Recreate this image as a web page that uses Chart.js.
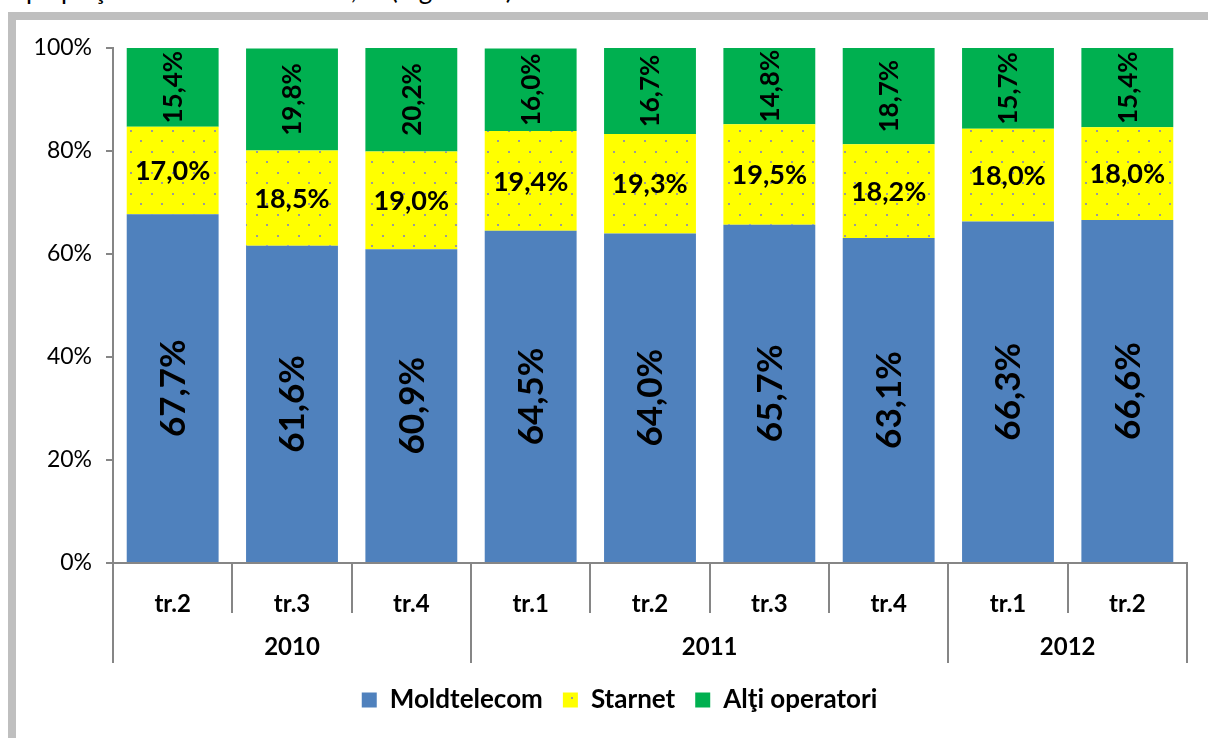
<!DOCTYPE html>
<html>
<head>
<meta charset="utf-8">
<script src="https://cdn.jsdelivr.net/npm/chart.js@4/dist/chart.umd.min.js"></script>
<style>
  body { margin: 0; background: #fff; width: 1208px; height: 738px; overflow: hidden; position: relative; font-family: Lato, sans-serif; }
  #caption { position: absolute; left: 26px; top: -27px; font-size: 26px; color: #000; white-space: nowrap; }
  #frame { position: absolute; left: 8px; top: 12px; width: 1300px; height: 800px; border-left: 8px solid #bfbfbf; border-top: 8px solid #bfbfbf; background: #fff; }
  #chart { position: absolute; left: 0; top: 0; }
</style>
</head>
<body>
<div id="caption">pe piaţa accesului la Internet, % (Figura 14)</div>
<div id="frame"></div>
<canvas id="chart" width="1208" height="738"></canvas>
<script>
// date
const quarters = ['tr.2', 'tr.3', 'tr.4', 'tr.1', 'tr.2', 'tr.3', 'tr.4', 'tr.1', 'tr.2'];
const years = ['2010', '2011', '2012'];
const yearSpan = [3, 4, 2]; // cate trimestre are fiecare an
const moldtelecom = [67.7, 61.6, 60.9, 64.5, 64.0, 65.7, 63.1, 66.3, 66.6];
const starnet = [17.0, 18.5, 19.0, 19.4, 19.3, 19.5, 18.2, 18.0, 18.0];
const altii = [15.4, 19.8, 20.2, 16.0, 16.7, 14.8, 18.7, 15.7, 15.4];
const yTicks = [0, 20, 40, 60, 80, 100];

const AXIS = '#868686';

// galben cu puncte gri
function dotPattern() {
  const c = document.createElement('canvas');
  c.width = 21; c.height = 21;
  const g = c.getContext('2d');
  g.fillStyle = '#ffff00';
  g.fillRect(0, 0, 21, 21);
  g.fillStyle = '#9a9a9a';
  g.fillRect(4, 4, 2, 2);
  g.fillRect(14, 14, 2, 2);
  return g.createPattern(c, 'repeat');
}

function fmt(v) {
  return v.toFixed(1).replace('.', ',') + '%';
}

// etichetele din interiorul barelor
const barLabels = {
  id: 'barLabels',
  afterDatasetsDraw(chart) {
    const ctx = chart.ctx;
    chart.data.datasets.forEach((ds, i) => {
      const meta = chart.getDatasetMeta(i);
      meta.data.forEach((bar, j) => {
        ctx.save();
        ctx.translate(bar.x, (bar.y + bar.base) / 2);
        if (ds.labelRotate) ctx.rotate(-Math.PI / 2);
        ctx.font = 'bold ' + ds.labelSize + 'px Lato';
        ctx.fillStyle = '#000';
        ctx.textAlign = 'center';
        ctx.textBaseline = 'middle';
        ctx.fillText(fmt(ds.data[j]), 0, 1);
        ctx.restore();
      });
    });
  }
};

// axa X pe doua niveluri: trimestre + ani
const groupAxis = {
  id: 'groupAxis',
  afterLayout(chart) {
    // legenda e centrata putin mai la dreapta in original
    chart.legend.left += 26;
    chart.legend.right += 26;
  },
  afterDraw(chart) {
    const ctx = chart.ctx;
    const x = chart.scales.x;
    const bottom = chart.chartArea.bottom;
    const half = (x.getPixelForValue(1) - x.getPixelForValue(0)) / 2;
    const edge = i => x.getPixelForValue(i) - half;
    const yearEdges = [0];
    yearSpan.forEach(n => yearEdges.push(yearEdges[yearEdges.length - 1] + n));

    ctx.save();
    ctx.strokeStyle = AXIS;
    ctx.lineWidth = 2;
    for (let i = 0; i <= quarters.length; i++) {
      const px = Math.round(edge(i));
      const len = yearEdges.includes(i) ? 100 : 50;
      ctx.beginPath();
      ctx.moveTo(px, bottom);
      ctx.lineTo(px, bottom + len);
      ctx.stroke();
    }
    ctx.font = 'bold 24px Lato';
    ctx.fillStyle = '#000';
    ctx.textAlign = 'center';
    ctx.textBaseline = 'middle';
    years.forEach((y, k) => {
      const cx = (edge(yearEdges[k]) + edge(yearEdges[k + 1])) / 2;
      ctx.fillText(y, cx, bottom + 84);
    });
    ctx.restore();
  }
};

const ctx = document.getElementById('chart');
new Chart(ctx, {
  type: 'bar',
  data: {
    labels: quarters,
    datasets: [
      { label: 'Moldtelecom', data: moldtelecom, backgroundColor: '#4f81bd', labelRotate: true, labelSize: 35 },
      { label: 'Starnet', data: starnet, backgroundColor: dotPattern(), labelRotate: false, labelSize: 27 },
      { label: 'Alţi operatori', data: altii, backgroundColor: '#00b050', labelRotate: true, labelSize: 26 }
    ]
  },
  options: {
    responsive: false,
    animation: false,
    barPercentage: 0.77,
    categoryPercentage: 1,
    layout: { padding: { left: 0, right: 21, top: 48, bottom: 15 } },
    scales: {
      x: {
        stacked: true,
        grid: { display: false },
        border: { display: true, color: AXIS, width: 2 },
        ticks: { color: '#000', font: { family: 'Lato', size: 24, weight: 'bold' }, padding: 19, maxRotation: 0 },
        afterFit(scale) { scale.height = 104; }
      },
      y: {
        stacked: true,
        min: 0,
        max: 100,
        afterBuildTicks(scale) { scale.ticks = yTicks.map(v => ({ value: v })); },
        ticks: { color: '#000', font: { family: 'Lato', size: 23 }, padding: 14, callback: v => v + '%' },
        grid: { drawOnChartArea: false, tickLength: 7, color: AXIS, lineWidth: 2 },
        border: { display: true, color: AXIS, width: 2 },
        afterFit(scale) { scale.width = 113; }
      }
    },
    plugins: {
      legend: {
        position: 'bottom',
        labels: { color: '#000', font: { family: 'Lato', size: 26, weight: 'bold' }, boxWidth: 15, boxHeight: 15, padding: 20 }
      },
      tooltip: { enabled: false }
    }
  },
  plugins: [barLabels, groupAxis]
});
</script>
</body>
</html>
